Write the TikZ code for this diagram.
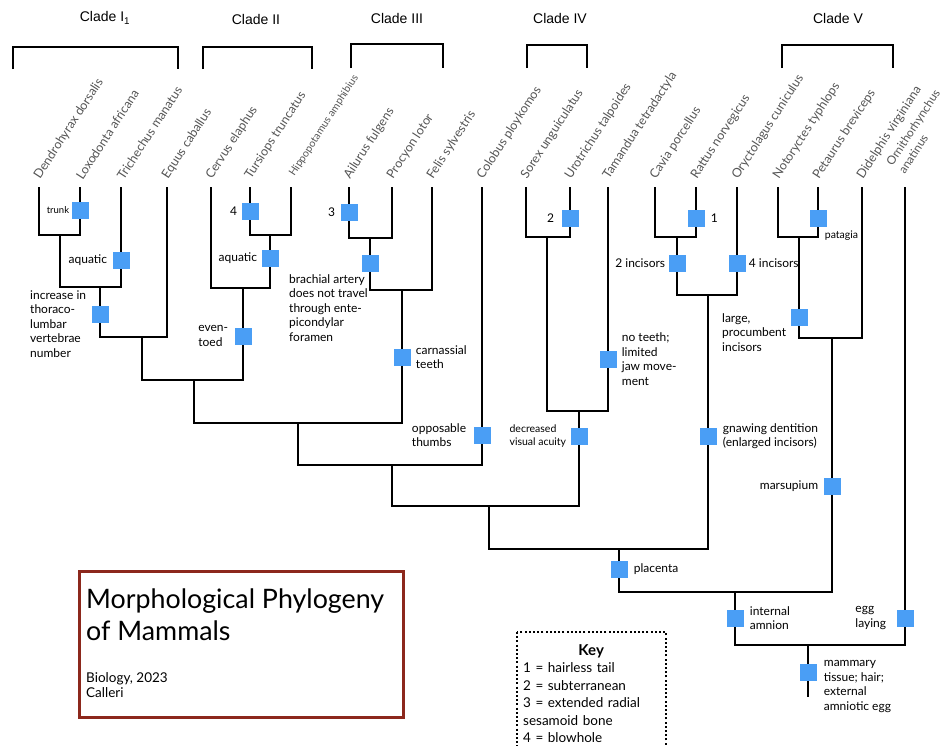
\documentclass[tikz,border=0pt]{standalone}
\usepackage{fontspec}
\setmainfont{Lato}
\newfontfamily\cladefont{Liberation Sans}
\usetikzlibrary{positioning}

\definecolor{traitblue}{RGB}{74,158,245}
\definecolor{titlered}{RGB}{140,40,28}
\definecolor{taxongrey}{RGB}{85,85,85}

\tikzset{
	branch/.style={line width=2pt},
	trait/.style={fill=traitblue, minimum size=17pt, inner sep=0pt},
	lbl/.style={font=\fontsize{12}{14.5}\selectfont, inner sep=0pt, align=left},
	taxon/.style={font=\fontsize{12.5}{15}\selectfont, text=taxongrey, rotate=57, anchor=south west, inner sep=0pt, align=left},
	bracket/.style={line width=2.8pt},
	clade/.style={font=\cladefont\fontsize{14}{16}\selectfont}
}

\begin{document}
\begin{tikzpicture}[x=1pt, y=-1pt]
	\useasboundingbox (0,0) rectangle (943,745);

	% Define tips and species names
	\foreach \id/\x/\name in {Den/39/Dendrohyrax dorsalis, Lox/80/Loxodonta africana, Tri/121/Trichechus manatus,
		Equ/167/Equus caballus, Cer/211/Cervus elaphus, Tur/250/Tursiops truncatus, Ail/349/Ailurus fulgens,
		Pro/392/Procyon lotor, Fel/432/Felis sylvestris, Col/482/Colobus ploykomos, Sor/526/Sorex unguiculatus,
		Uro/570/Urotrichus talpoides, Tam/608/Tamandua tetradactyla, Cav/655/Cavia porcellus,
		Rat/696/Rattus norvegicus, Ory/737/Oryctolagus cuniculus, Not/778/Notoryctes typhlops,
		Pet/818/Petaurus breviceps, Did/862/Didelphis virginiana}{
		\coordinate (t\id) at (\x,187);
		\node[taxon] (lab\id) at ([xshift=3pt, yshift=6pt]t\id) {\name};
	}
	\coordinate (tHip) at (291,187);
	\node[taxon, font=\fontsize{10.5}{13}\selectfont] (labHip) at ([xshift=5pt, yshift=9pt]tHip) {Hippopotamus amphibius};
	\coordinate (tOrn) at (905,187);
	\node[taxon, font=\fontsize{11.8}{14.5}\selectfont] (labOrn) at ([xshift=0pt, yshift=12pt]tOrn) {Ornithorhynchus\\anatinus};

	% Clade brackets
	\draw[bracket] (13,69) |- (178,47) -- (178,69);
	\draw[bracket] (203,69) |- (312,47) -- (312,69);
	\draw[bracket] (351,68) |- (443,44) -- (443,68);
	\draw[bracket] (527,68) |- (587,45) -- (587,68);
	\draw[bracket] (782,68) |- (893,45) -- (893,68);
	\node[clade] (cladeI) at (105,18) {Clade I\textsubscript{1}};
	\node[clade] (cladeII) at (256,19) {Clade II};
	\node[clade] (cladeIII) at (397,18) {Clade III};
	\node[clade] (cladeIV) at (560,18) {Clade IV};
	\node[clade] (cladeV) at (838,18) {Clade V};

	% Inner nodes of the tree
	\coordinate (nA) at (60,235);
	\coordinate (nB) at (100,287);
	\coordinate (nC) at (142,337);
	\coordinate (nD) at (270,235);
	\coordinate (nE) at (243,288);
	\coordinate (nF) at (194,380);
	\coordinate (nG) at (370,238);
	\coordinate (nH) at (402,290);
	\coordinate (nI) at (298,423);
	\coordinate (nJ) at (392,465);
	\coordinate (nK) at (547,237);
	\coordinate (nL) at (579,411);
	\coordinate (nM) at (489,506);
	\coordinate (nN) at (677,237);
	\coordinate (nO) at (708,295);
	\coordinate (nP) at (619,549);
	\coordinate (nQ) at (799,237);
	\coordinate (nR) at (832,338);
	\coordinate (nS) at (735,592);
	\coordinate (nT) at (808,645);
	\coordinate (root) at (808,697);

	% Branches
	\draw[branch] (tDen) |- (nA) -| (tLox);
	\draw[branch] (nA) |- (nB) -| (tTri);
	\draw[branch] (nB) |- (nC) -| (tEqu);
	\draw[branch] (tTur) |- (nD) -| (tHip);
	\draw[branch] (tCer) |- (nE) -| (nD);
	\draw[branch] (nC) |- (nF) -| (nE);
	\draw[branch] (tAil) |- (nG) -| (tPro);
	\draw[branch] (nG) |- (nH) -| (tFel);
	\draw[branch] (nF) |- (nI) -| (nH);
	\draw[branch] (nI) |- (nJ) -| (tCol);
	\draw[branch] (tSor) |- (nK) -| (tUro);
	\draw[branch] (nK) |- (nL) -| (tTam);
	\draw[branch] (nJ) |- (nM) -| (nL);
	\draw[branch] (tCav) |- (nN) -| (tRat);
	\draw[branch] (nN) |- (nO) -| (tOry);
	\draw[branch] (nM) |- (nP) -| (nO);
	\draw[branch] (tNot) |- (nQ) -| (tPet);
	\draw[branch] (nQ) |- (nR) -| (tDid);
	\draw[branch] (nP) |- (nS) -| (nR);
	\draw[branch] (nS) |- (nT) -| (tOrn);
	\draw[branch] (nT) -- (root);

	% Traits
	\node[trait] (sTrunk) at (80,210) {};
	\node[lbl, font=\fontsize{9.5}{12}\selectfont, left=2pt of sTrunk] (lTrunk) {trunk};
	\node[trait] (sAqua) at (121,260) {};
	\node[lbl, left=5pt of sAqua] (lAqua) {aquatic};
	\node[trait] (sThor) at (100,314) {};
	\node[lbl, anchor=north east] (lThor) at ([xshift=-5pt, yshift=15pt]sThor.north west) {increase in\\thoraco-\\lumbar\\vertebrae\\number};
	\node[trait] (sBlow) at (250,211) {};
	\node[lbl, left=4pt of sBlow] (lBlow) {4};
	\node[trait] (sAquaB) at (270,258) {};
	\node[lbl, left=4pt of sAquaB] (lAquaB) {aquatic};
	\node[trait] (sToed) at (243,336) {};
	\node[lbl, left=6pt of sToed] (lToed) {even-\\toed};
	\node[trait] (sSesa) at (349,212) {};
	\node[lbl, left=5pt of sSesa] (lSesa) {3};
	\node[trait] (sBrach) at (370,263) {};
	\node[lbl, anchor=north west] (lBrach) at (289,274) {brachial artery\\does not travel\\through ente-\\picondylar\\foramen};
	\node[trait] (sCarn) at (402,357) {};
	\node[lbl, right=5pt of sCarn] (lCarn) {carnassial\\teeth};
	\node[trait] (sThumb) at (482,435) {};
	\node[lbl, left=7pt of sThumb] (lThumb) {opposable\\thumbs};
	\node[trait] (sVis) at (579,436) {};
	\node[lbl, font=\fontsize{10.5}{13}\selectfont, left=4pt of sVis] (lVis) {decreased\\visual acuity};
	\node[trait] (sSub) at (570,218) {};
	\node[lbl, left=7pt of sSub] (lSub) {2};
	\node[trait] (sTeeth) at (608,359) {};
	\node[lbl, right=5pt of sTeeth] (lTeeth) {no teeth;\\limited\\jaw move-\\ment};
	\node[trait] (sTail) at (696,218) {};
	\node[lbl, right=6pt of sTail] (lTail) {1};
	\node[trait] (sTwo) at (677,263) {};
	\node[lbl, left=3pt of sTwo] (lTwo) {2 incisors};
	\node[trait] (sFour) at (737,263) {};
	\node[lbl, right=3pt of sFour] (lFour) {4 incisors};
	\node[trait] (sGnaw) at (708,436) {};
	\node[lbl, right=6pt of sGnaw] (lGnaw) {gnawing dentition\\(enlarged incisors)};
	\node[trait] (sPlac) at (619,569) {};
	\node[lbl, right=6pt of sPlac] (lPlac) {placenta};
	\node[trait] (sPata) at (818,218) {};
	\node[lbl, font=\fontsize{10.5}{13}\selectfont, anchor=north west] (lPata) at ([xshift=-2pt, yshift=-4pt]sPata.south east) {patagia};
	\node[trait] (sProc) at (799,317) {};
	\node[lbl, anchor=north east] (lProc) at ([xshift=-4pt, yshift=4pt]sProc.west) {large,\\procumbent\\incisors};
	\node[trait] (sMars) at (832,486) {};
	\node[lbl, left=5pt of sMars] (lMars) {marsupium};
	\node[trait] (sAmn) at (735,618) {};
	\node[lbl, right=6pt of sAmn] (lAmn) {internal\\amnion};
	\node[trait] (sEgg) at (905,618) {};
	\node[lbl, left=10pt of sEgg] (lEgg) {egg\\laying};
	\node[trait] (sMamm) at (808,672) {};
	\node[lbl, anchor=north west] (lMamm) at ([xshift=7pt, yshift=3pt]sMamm.north east) {mammary\\tissue; hair;\\external\\amniotic egg};

	% Title box
	\node[draw=titlered, line width=3pt, minimum width=324pt, minimum height=146pt, anchor=north west] (titlebox) at (78,570) {};
	\node[anchor=north west, align=left, inner sep=0pt, font=\fontsize{26.8}{32}\selectfont] (title) at (86,589) {Morphological Phylogeny\\of Mammals};
	\node[anchor=north west, align=left, inner sep=0pt, font=\fontsize{13.5}{15}\selectfont] (byline) at (86,672) {Biology, 2023\\Calleri};

	% Key
	\draw[line width=2pt, dash pattern=on 2pt off 2.2pt] (517,632) rectangle (666,765);
	\node[anchor=north west, text width=136pt, inner sep=0pt, align=left, font=\fontsize{13.5}{17.5}\selectfont] (key) at (523,644)
		{\centering{\fontsize{15}{17}\selectfont\textbf{Key}}\par\raggedright 1 = hairless tail\\2 = subterranean\\3 = extended radial\\sesamoid bone\\4 = blowhole\par};
\end{tikzpicture}
\end{document}
